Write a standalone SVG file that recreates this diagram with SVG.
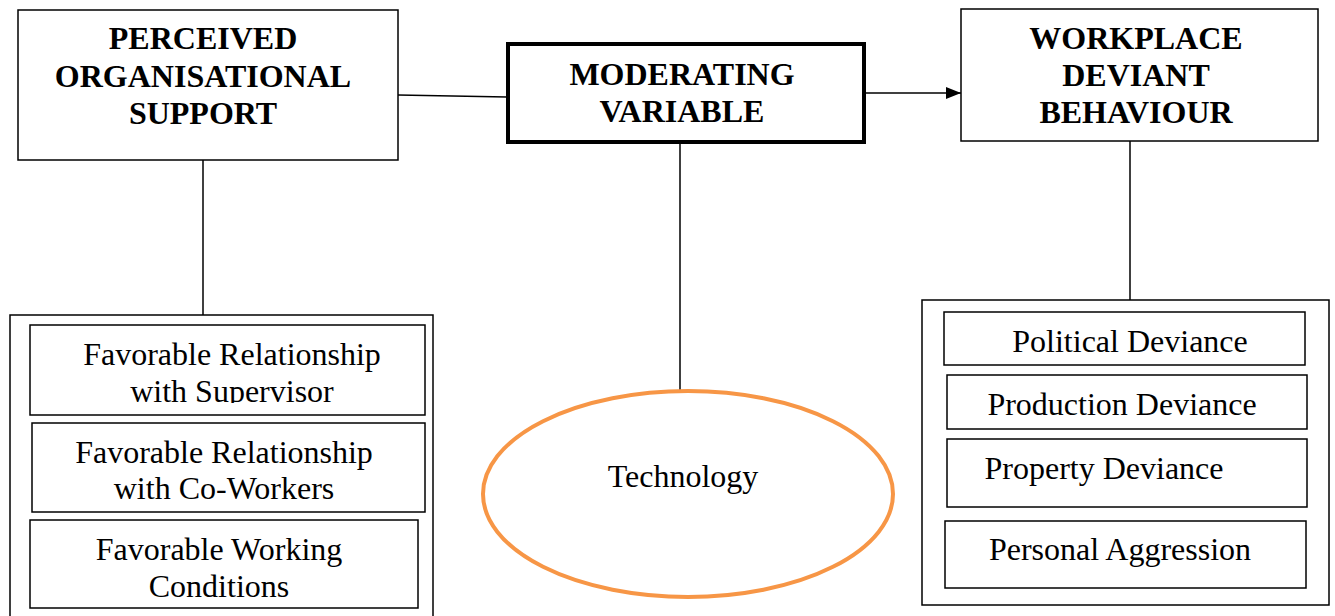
<svg xmlns="http://www.w3.org/2000/svg" width="1335" height="616" viewBox="0 0 1335 616">
<style>
.box{fill:#fff;stroke:#000;stroke-width:1.5}
.thick{fill:#fff;stroke:#000;stroke-width:4}
.hd{font-family:"Liberation Serif","Times New Roman",serif;font-weight:bold;font-size:32px;text-anchor:middle;fill:#000}
.tx{font-family:"Liberation Serif","Times New Roman",serif;font-size:32px;text-anchor:middle;fill:#000}
.ln{stroke:#000;stroke-width:1.5;fill:none}
</style>
<defs>
<marker id="arr" markerWidth="15" markerHeight="12" refX="15" refY="6" orient="auto" markerUnits="userSpaceOnUse" viewBox="0 0 15 12">
<path d="M0,0 L15,6 L0,12 Z" fill="#000"/>
</marker>
<clipPath id="clipSup"><rect x="30" y="325" width="395" height="78"/></clipPath>
</defs>
<g id="connectors">
<line class="ln" x1="398" y1="95" x2="507" y2="97"/>
<line class="ln" x1="865" y1="93" x2="961" y2="93" marker-end="url(#arr)"/>
<line class="ln" x1="203" y1="160" x2="203" y2="315"/>
<line class="ln" x1="680" y1="142" x2="680" y2="390"/>
<line class="ln" x1="1130" y1="141" x2="1130" y2="300"/>
</g>
<g id="pos">
<rect class="box" x="18" y="10" width="380" height="150"/>
<text class="hd" x="203" y="49">PERCEIVED</text>
<text class="hd" x="203" y="87">ORGANISATIONAL</text>
<text class="hd" x="203" y="124">SUPPORT</text>
</g>
<g id="moderating">
<rect class="thick" x="508" y="44" width="356" height="98"/>
<text class="hd" x="682" y="85">MODERATING</text>
<text class="hd" x="682" y="122">VARIABLE</text>
</g>
<g id="wdb">
<rect class="box" x="961" y="9" width="357" height="132"/>
<text class="hd" x="1136" y="49">WORKPLACE</text>
<text class="hd" x="1136" y="86">DEVIANT</text>
<text class="hd" x="1136" y="123">BEHAVIOUR</text>
</g>
<g id="pos-dimensions">
<rect class="box" x="10" y="315" width="423" height="310"/>
<g id="supervisor">
<rect class="box" x="30" y="325" width="395" height="90"/>
<g clip-path="url(#clipSup)">
<text class="tx" x="232" y="365">Favorable Relationship</text>
<text class="tx" x="232" y="402">with Supervisor</text>
</g>
</g>
<g id="coworkers">
<rect class="box" x="32" y="423" width="393" height="89"/>
<text class="tx" x="224" y="463">Favorable Relationship</text>
<text class="tx" x="224" y="499">with Co-Workers</text>
</g>
<g id="conditions">
<rect class="box" x="30" y="520" width="388" height="88"/>
<text class="tx" x="219" y="560">Favorable Working</text>
<text class="tx" x="219" y="597">Conditions</text>
</g>
</g>
<g id="technology">
<ellipse cx="688" cy="494" rx="205" ry="103" fill="#fff" stroke="#F79646" stroke-width="4"/>
<text class="tx" x="683" y="487">Technology</text>
</g>
<g id="wdb-dimensions">
<rect class="box" x="922" y="300" width="407" height="305"/>
<g id="political">
<rect class="box" x="944" y="312" width="361" height="53"/>
<text class="tx" x="1130" y="352">Political Deviance</text>
</g>
<g id="production">
<rect class="box" x="947" y="375" width="360" height="54"/>
<text class="tx" x="1122" y="415">Production Deviance</text>
</g>
<g id="property">
<rect class="box" x="947" y="439" width="360" height="68"/>
<text class="tx" x="1104" y="479">Property Deviance</text>
</g>
<g id="aggression">
<rect class="box" x="945" y="521" width="361" height="67"/>
<text class="tx" x="1120" y="560">Personal Aggression</text>
</g>
</g>
</svg>
